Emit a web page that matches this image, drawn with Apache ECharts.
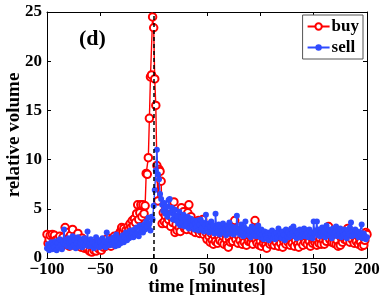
<!DOCTYPE html>
<html><head><meta charset="utf-8">
<script src="https://cdn.jsdelivr.net/npm/echarts@6/dist/echarts.min.js"></script>
<style>html,body{margin:0;padding:0;background:#fff}#c{width:382px;height:299px}</style>
</head><body><div id="c"></div>
<script>
const startMinute = -100;
const buy = [
2.4,1.5,1.9,2.3,1.2,2.4,1.4,2.3,1.8,1.3,
1.9,1.4,2.2,1.6,1.2,2.1,1.5,3.1,1.8,2.6,
1.7,1.2,2.3,1.6,2.9,1.9,1.3,2.2,1.5,2.5,
1.4,1.9,1.1,2.0,1.6,1.0,1.7,1.3,0.9,1.5,
0.7,1.4,0.6,1.2,0.8,1.5,0.7,1.1,1.6,0.9,
1.3,0.8,1.5,1.1,1.8,1.2,1.6,2.0,1.4,1.7,
1.2,1.9,1.5,2.2,1.6,2.0,1.8,2.4,2.1,2.7,
3.1,2.6,3.0,2.4,2.8,2.5,3.2,2.9,3.5,3.1,
3.8,3.3,4.0,3.6,4.5,5.4,3.9,4.6,5.4,4.2,
5.4,4.5,5.3,8.6,8.5,10.2,14.2,18.4,18.6,24.5,
23.4,18.2,15.5,9.4,5.8,9.0,8.8,7.8,3.5,4.6,
3.7,4.3,3.5,4.8,3.9,4.4,3.2,4.1,3.6,5.7,
2.6,3.4,2.8,4.0,3.1,2.7,5.1,3.6,4.7,3.0,
3.9,2.9,4.6,5.4,3.3,4.2,2.8,3.7,3.1,2.6,
3.5,2.9,3.8,2.5,3.2,2.7,3.9,2.4,3.0,2.6,
1.9,2.8,2.2,1.6,2.5,1.8,1.4,2.3,1.7,2.6,
1.5,2.1,1.8,2.7,1.6,2.2,1.4,2.5,1.9,1.3,
1.1,2.0,1.6,2.8,1.7,2.3,3.8,1.9,2.4,1.5,
2.2,1.8,2.7,1.4,2.1,1.6,2.5,1.3,2.0,1.7,
2.4,1.6,2.0,1.4,2.3,3.8,1.8,1.5,2.2,1.3,
1.7,1.2,2.1,1.5,1.9,1.3,1.0,1.8,2.2,1.4,
2.0,1.5,2.4,1.3,1.8,1.6,2.1,1.2,1.9,1.5,
2.3,1.1,1.7,2.0,1.4,2.2,1.6,2.6,1.3,1.9,
1.5,2.1,1.2,1.8,2.4,1.4,1.1,2.0,1.6,2.3,
1.3,1.9,1.6,2.2,1.4,2.0,1.7,1.2,2.1,1.5,
2.4,1.6,1.9,1.3,2.2,1.5,2.0,1.4,2.6,1.8,
1.4,2.1,1.7,2.5,3.2,1.9,2.3,1.6,2.0,1.5,
2.2,1.4,1.8,1.2,2.6,1.3,2.0,1.6,2.4,1.9,
2.7,1.8,3.0,2.2,1.6,2.5,1.9,2.3,1.5,2.1,
1.7,2.4,1.4,2.0,1.6,1.2,2.2,1.3,1.8,2.6,
2.4];
const sell = [
1.0,1.4,0.8,1.2,1.6,0.9,1.3,1.1,1.7,0.8,
1.5,1.1,1.9,1.3,0.9,1.6,2.9,1.4,1.8,1.2,
2.0,1.5,1.1,1.7,2.2,1.3,1.8,1.0,1.5,2.1,
1.2,1.6,1.9,1.1,1.4,2.0,1.3,1.7,2.7,1.2,
1.5,1.9,1.2,1.6,1.0,1.4,2.1,1.3,1.8,1.1,
1.6,1.2,2.0,1.4,1.7,1.1,2.6,1.5,1.9,1.3,
1.8,1.4,2.1,1.6,1.2,2.4,1.7,1.3,2.0,1.5,
1.9,2.3,1.6,2.1,2.6,1.8,2.4,2.0,2.8,2.2,
2.6,2.1,2.9,2.4,3.1,2.5,2.2,3.3,2.7,3.0,
2.6,3.4,2.9,3.7,3.2,4.1,3.5,2.8,4.2,3.9,
5.3,6.9,8.9,11.0,8.5,8.0,6.5,6.0,5.4,4.8,
5.6,4.5,5.2,4.2,5.9,6.0,4.6,5.1,3.9,4.4,
4.9,3.8,4.3,3.5,4.7,3.3,4.1,3.6,4.4,3.2,
3.9,3.4,4.2,3.0,3.7,4.0,3.3,3.8,2.9,3.5,
3.1,3.8,2.8,3.4,3.9,3.0,3.6,2.7,3.3,4.4,
3.0,3.5,2.6,3.2,3.7,2.8,3.3,2.5,4.5,3.0,
2.7,3.4,2.4,3.1,2.8,3.5,2.6,3.0,2.3,3.3,
2.9,3.6,2.5,3.2,2.8,2.4,3.1,2.7,4.3,2.6,
3.0,2.4,3.4,2.7,2.2,3.1,3.7,2.5,2.9,2.3,
2.8,2.1,3.2,2.6,2.4,3.0,2.2,2.7,3.3,2.5,
2.1,2.9,2.4,1.9,2.7,2.3,2.0,2.6,1.8,2.5,
2.2,2.8,2.0,2.4,1.9,2.6,2.1,3.0,2.3,2.5,
2.0,2.7,2.3,1.8,2.9,2.2,2.6,2.1,2.4,3.0,
2.5,3.2,2.2,2.8,2.0,2.6,2.3,2.9,2.1,2.7,
2.4,3.0,2.2,2.8,2.5,2.1,2.9,2.3,2.6,2.0,
3.7,2.5,2.8,3.7,2.3,2.9,2.2,2.6,3.1,2.4,
2.8,2.1,3.3,2.5,2.9,2.3,2.7,2.0,3.0,2.4,
2.6,3.2,2.2,2.8,2.4,3.0,2.1,2.7,2.3,2.9,
2.5,2.0,2.8,2.4,3.1,3.6,2.2,2.7,2.4,2.9,
2.3,2.7,2.1,2.6,2.4,3.4,2.0,2.5,2.2,1.9,
2.1];
const xTicks = [-100, -50, 0, 50, 100, 150, 200];
const yTicks = [0, 5, 10, 15, 20, 25];
const eventTime = 0;

const toPairs = arr => arr.map((v, i) => [startMinute + i, v]);
const font = 'Liberation Serif';
const chart = echarts.init(document.getElementById('c'), null, {renderer: 'canvas'});
const tickCommon = {show: true, inside: true, length: 4, lineStyle: {color: '#000', width: 1}};
chart.setOption({
  animation: false,
  backgroundColor: '#fff',
  grid: {left: 47, right: 15, top: 12, bottom: 41, containLabel: false, outerBoundsMode: 'none'},
  xAxis: [{
    type: 'value', min: xTicks[0], max: xTicks[xTicks.length - 1], interval: 50,
    axisLine: {show: true, onZero: false, lineStyle: {color: '#000', width: 1}},
    axisTick: tickCommon, splitLine: {show: false},
    axisLabel: {color: '#000', fontFamily: font, fontWeight: 'bold', fontSize: 17, margin: 3,
      formatter: v => (v < 0 ? '\u2212' + Math.abs(v) : '' + v)},
    name: 'time [minutes]', nameLocation: 'middle', nameGap: 20, nameMoveOverlap: false,
    nameTextStyle: {color: '#000', fontFamily: font, fontWeight: 'bold', fontSize: 19}
  }, {
    type: 'value', position: 'top', min: xTicks[0], max: xTicks[xTicks.length - 1], interval: 50,
    axisLine: {show: true, onZero: false, lineStyle: {color: '#000', width: 1}},
    axisTick: tickCommon, axisLabel: {show: false}, splitLine: {show: false}
  }],
  yAxis: [{
    type: 'value', min: 0, max: 25, interval: 5,
    axisLine: {show: true, onZero: false, lineStyle: {color: '#000', width: 1}},
    axisTick: tickCommon, splitLine: {show: false},
    axisLabel: {color: '#000', fontFamily: font, fontWeight: 'bold', fontSize: 17, margin: 5},
    name: 'relative volume', nameLocation: 'middle', nameGap: 23, nameMoveOverlap: false,
    nameTextStyle: {color: '#000', fontFamily: font, fontWeight: 'bold', fontSize: 19}
  }, {
    type: 'value', position: 'right', min: 0, max: 25, interval: 5,
    axisLine: {show: true, onZero: false, lineStyle: {color: '#000', width: 1}},
    axisTick: tickCommon, axisLabel: {show: false}, splitLine: {show: false}
  }],
  legend: {
    right: 19, top: 15, orient: 'vertical', itemGap: 4, itemWidth: 22, itemHeight: 8,
    padding: [3, 4, 3, 4], borderColor: '#555', borderWidth: 1, backgroundColor: '#fff',
    textStyle: {color: '#000', fontFamily: font, fontWeight: 'bold', fontSize: 17, padding: [0, 0, 0, -3]},
    data: ['buy', 'sell']
  },
  graphic: [{
    type: 'text', left: 79, top: 28,
    style: {text: '(d)', fill: '#000', font: 'bold 22px "Liberation Serif"'}
  }],
  series: [{
    name: 'buy', type: 'line', data: toPairs(buy), symbol: 'emptyCircle', symbolSize: 7.5,
    itemStyle: {color: '#ff0000', borderWidth: 1.4}, lineStyle: {color: '#ff0000', width: 1.4}, z: 2
  }, {
    name: 'sell', type: 'line', data: toPairs(sell), symbol: 'circle', symbolSize: 6,
    itemStyle: {color: '#2f4bff'}, lineStyle: {color: '#2f4bff', width: 1.4}, z: 3,
    markLine: {silent: true, symbol: 'none', label: {show: false}, z: 5,
      lineStyle: {color: '#000', type: [4, 3], width: 1.5}, data: [{xAxis: eventTime}]}
  }]
});
</script></body></html>
